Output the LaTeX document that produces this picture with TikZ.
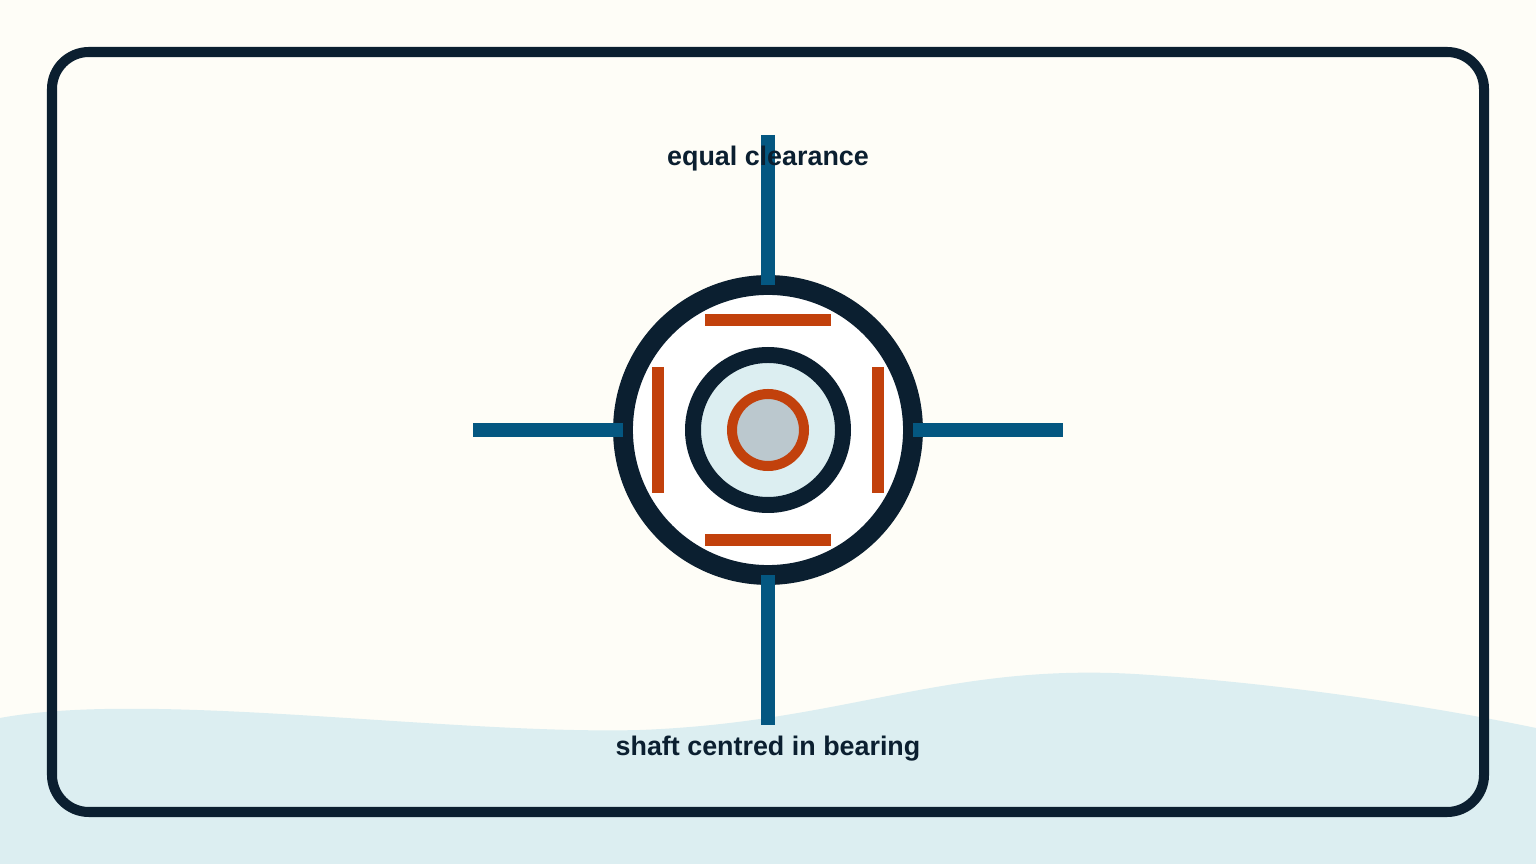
\documentclass[tikz,border=0pt]{standalone}
\usepackage{fontspec}
\setmainfont{Liberation Sans}
\usepackage{tikz}
\usetikzlibrary{positioning}
\definecolor{cream}{HTML}{FEFDF7}
\definecolor{wave}{HTML}{DCEEF1}
\definecolor{ink}{HTML}{0B1F30}
\definecolor{rust}{HTML}{C2410C}
\definecolor{steel}{HTML}{045781}
\definecolor{shaftfill}{HTML}{BBC8CE}
\tikzset{
    gauge/.style={draw=steel, line width=7.9pt},
    pad/.style={draw=rust, line width=6.8pt},
    caption/.style={font=\bfseries, text=ink, scale=1.53}
}

\begin{document}
\begin{tikzpicture}[x=0.02cm, y=-0.02cm]
    % Background and wave
    \fill[cream] (0,0) rectangle (1536,864);
    \useasboundingbox (0,0) rectangle (1536,864);
    \fill[wave] (0,718) .. controls (150,690) and (450,735) .. (640,730)
        .. controls (850,722) and (950,660) .. (1150,675)
        .. controls (1300,685) and (1450,710) .. (1536,728)
        -- (1536,864) -- (0,864) -- cycle;

    % Frame
    \draw[draw=ink, line width=5.7pt, rounded corners=21pt] (52,52) rectangle (1484,812);

    % Bearing housing and shaft
    \draw[draw=ink, fill=white, line width=11.3pt] (768,430) circle (145);
    \draw[draw=ink, fill=wave, line width=9.1pt] (768,430) circle (75);
    \draw[draw=rust, fill=shaftfill, line width=5.7pt] (768,430) circle (36);

    % Clearance pads
    \draw[pad] (705,320) -- (831,320);
    \draw[pad] (705,540) -- (831,540);
    \draw[pad] (658,367) -- (658,493);
    \draw[pad] (878,367) -- (878,493);

    % Gauge lines
    \coordinate (t1) at (768,135); \coordinate (t2) at (768,285);
    \coordinate (b1) at (768,575); \coordinate (b2) at (768,725);
    \coordinate (l1) at (473,430); \coordinate (l2) at (623,430);
    \coordinate (r1) at (913,430); \coordinate (r2) at (1063,430);
    \draw[gauge] (t1) -- (t2);
    \draw[gauge] (b1) -- (b2);
    \draw[gauge] (l1) -- (l2);
    \draw[gauge] (r1) -- (r2);

    % Labels
    \node[caption] (top) at (768,159) {equal clearance};
    \node[caption] (bottom) at (768,749) {shaft centred in bearing};
\end{tikzpicture}
\end{document}
